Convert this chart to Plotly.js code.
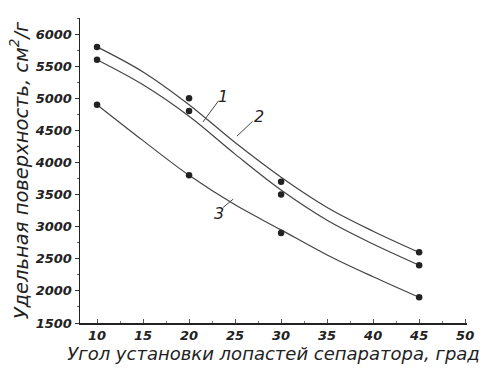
<!DOCTYPE html>
<html><head><meta charset="utf-8">
<script src="https://cdn.plot.ly/plotly-3.0.1.min.js"></script>
<style>html,body{margin:0;padding:0;background:#fff}#c{width:497px;height:370px}</style>
</head><body><div id="c"></div>
<script>
// measured points
const angles = [10, 20, 30, 45];
const s1 = [5600, 4800, 3500, 2400];
const s2 = [5800, 5000, 3700, 2600];
const s3 = [4900, 3800, 2900, 1900];
// fitted curves
const curveX = [10, 15, 20, 25, 30, 35, 40, 45];
const c1 = [5600, 5210, 4720, 4130, 3570, 3100, 2730, 2400];
const c2 = [5800, 5410, 4900, 4310, 3770, 3300, 2930, 2600];
const c3 = [4900, 4340, 3800, 3340, 2950, 2560, 2220, 1900];
const xTicks = [10, 15, 20, 25, 30, 35, 40, 45, 50];
const yTicks = [1500, 2000, 2500, 3000, 3500, 4000, 4500, 5000, 5500, 6000];
const labels = ['1', '2', '3'];

const FAM = 'DejaVu Sans, Arial, sans-serif';
const lineStyle = {color: '#444', width: 1.2, shape: 'spline', smoothing: 1};
const mk = {color: '#222', size: 6.5};
const traces = [
  {x: curveX, y: c1, mode: 'lines', line: lineStyle, hoverinfo: 'skip'},
  {x: curveX, y: c2, mode: 'lines', line: lineStyle, hoverinfo: 'skip'},
  {x: curveX, y: c3, mode: 'lines', line: lineStyle, hoverinfo: 'skip'},
  {x: angles, y: s1, mode: 'markers', marker: mk},
  {x: angles, y: s2, mode: 'markers', marker: mk},
  {x: angles, y: s3, mode: 'markers', marker: mk}
];
const layout = {
  width: 497, height: 370,
  margin: {l: 80, r: 30, t: 18, b: 47},
  paper_bgcolor: '#fff', plot_bgcolor: '#fff',
  showlegend: false,
  font: {family: FAM, size: 12, color: '#222'},
  xaxis: {
    range: [8.15, 50.2], tickvals: xTicks, ticktext: xTicks.map(v => '<b><i>' + v + '</i></b>'),
    showgrid: false, zeroline: false, showline: true, linecolor: '#222', linewidth: 1.5,
    ticks: 'inside', ticklen: 4, tickcolor: '#555',
    minor: {dtick: 2.5, ticks: 'inside', ticklen: 2, tickcolor: '#777'},
    tickfont: {family: FAM, size: 13, color: '#222'},
    title: {text: '<i>Угол установки лопастей сепаратора, град</i>', standoff: 0,
      font: {family: FAM, size: 18, color: '#222'}}
  },
  yaxis: {
    range: [1500, 6250], tickvals: yTicks, ticktext: yTicks.map(v => '<b><i>' + v + '</i></b>'),
    showgrid: false, zeroline: false, showline: true, linecolor: '#222', linewidth: 1.5,
    ticks: 'outside', ticklen: 4, tickcolor: '#333',
    minor: {dtick: 250, ticks: 'outside', ticklen: 2, tickcolor: '#555'},
    tickfont: {family: FAM, size: 13, color: '#222'},
    title: {text: '<i>Удельная поверхность, см<sup>2</sup>/г</i>', standoff: 1,
      font: {family: FAM, size: 19.5, color: '#222'}}
  },
  annotations: [
    {x: 23.7, y: 5020, text: '<i>' + labels[0] + '</i>', showarrow: false, font: {family: FAM, size: 16, color: '#222'}},
    {x: 27.6, y: 4710, text: '<i>' + labels[1] + '</i>', showarrow: false, font: {family: FAM, size: 16, color: '#222'}},
    {x: 23.3, y: 3210, text: '<i>' + labels[2] + '</i>', showarrow: false, font: {family: FAM, size: 16, color: '#222'}}
  ],
  shapes: [
    {type: 'line', x0: 23.2, y0: 4960, x1: 21.5, y1: 4630, line: {color: '#444', width: 1}},
    {type: 'line', x0: 26.9, y0: 4640, x1: 25.2, y1: 4410, line: {color: '#444', width: 1}},
    {type: 'line', x0: 23.7, y0: 3300, x1: 24.8, y1: 3430, line: {color: '#444', width: 1}}
  ]
};
Plotly.newPlot('c', traces, layout, {displayModeBar: false, staticPlot: true});
</script></body></html>
